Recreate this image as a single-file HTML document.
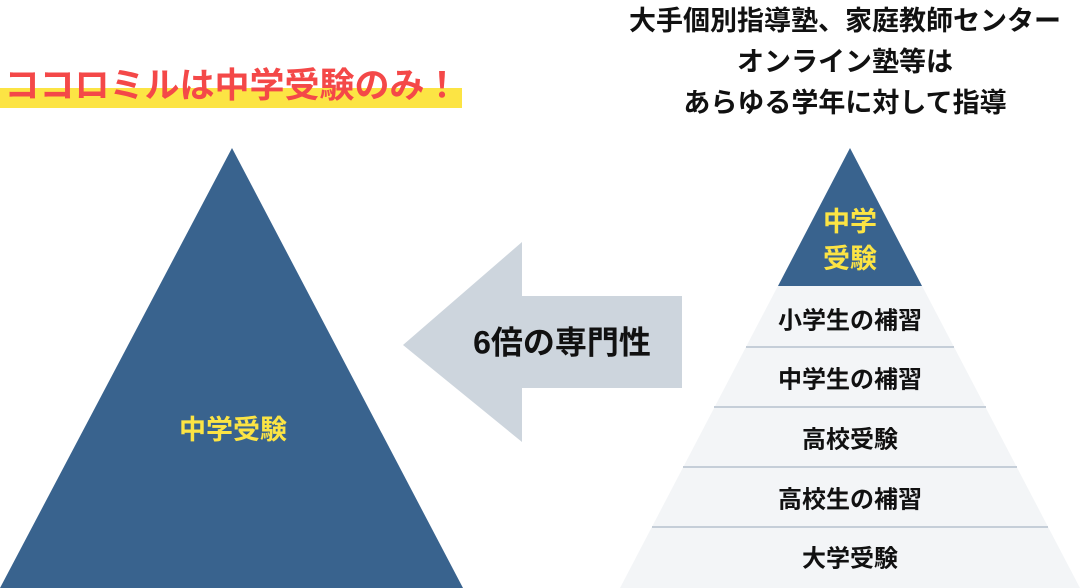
<!DOCTYPE html>
<html><head><meta charset="utf-8"><style>
html,body{margin:0;padding:0;background:#fff;}
svg{display:block;}
text{font-family:"Liberation Sans","Noto Sans CJK JP",sans-serif;font-weight:bold;}
</style></head><body>
<svg width="1080" height="588" viewBox="0 0 1080 588" xmlns="http://www.w3.org/2000/svg">
<rect x="0" y="88" width="462" height="20" fill="#fce444"/>
<text x="232" y="88" font-size="35" fill="#f44848" text-anchor="middle" dominant-baseline="middle">ココロミルは中学受験のみ！</text>
<g font-size="27" fill="#111" text-anchor="middle" dominant-baseline="middle">
<text x="845" y="23">大手個別指導塾、家庭教師センター</text>
<text x="845" y="64">オンライン塾等は</text>
<text x="845" y="105">あらゆる学年に対して指導</text>
</g>
<polygon points="232,148 463,588 0,588" fill="#39638e"/>
<text x="233" y="432" font-size="27" fill="#fce444" text-anchor="middle" dominant-baseline="middle">中学受験</text>
<polygon points="403,345 522,242 522,296 682,296 682,388 522,388 522,442" fill="#cdd5dd"/>
<text x="562" y="345" font-size="32" fill="#111" text-anchor="middle" dominant-baseline="middle">6倍の専門性</text>
<polygon points="850,148 1080,588 620,588" fill="#f3f5f7"/>
<polygon points="850,148 922,286 778,286" fill="#39638e"/>
<g stroke="#c5ced8" stroke-width="2">
<line x1="746" y1="347" x2="954" y2="347"/>
<line x1="714" y1="407" x2="986" y2="407"/>
<line x1="683" y1="467" x2="1017" y2="467"/>
<line x1="652" y1="527" x2="1048" y2="527"/>
</g>
<g font-size="27" fill="#fce444" text-anchor="middle" dominant-baseline="middle">
<text x="850" y="224">中学</text>
<text x="850" y="261">受験</text>
</g>
<g font-size="24" fill="#111" text-anchor="middle" dominant-baseline="middle">
<text x="850" y="322">小学生の補習</text>
<text x="850" y="381">中学生の補習</text>
<text x="850" y="441">高校受験</text>
<text x="850" y="501">高校生の補習</text>
<text x="850" y="560">大学受験</text>
</g>
</svg>
</body></html>
